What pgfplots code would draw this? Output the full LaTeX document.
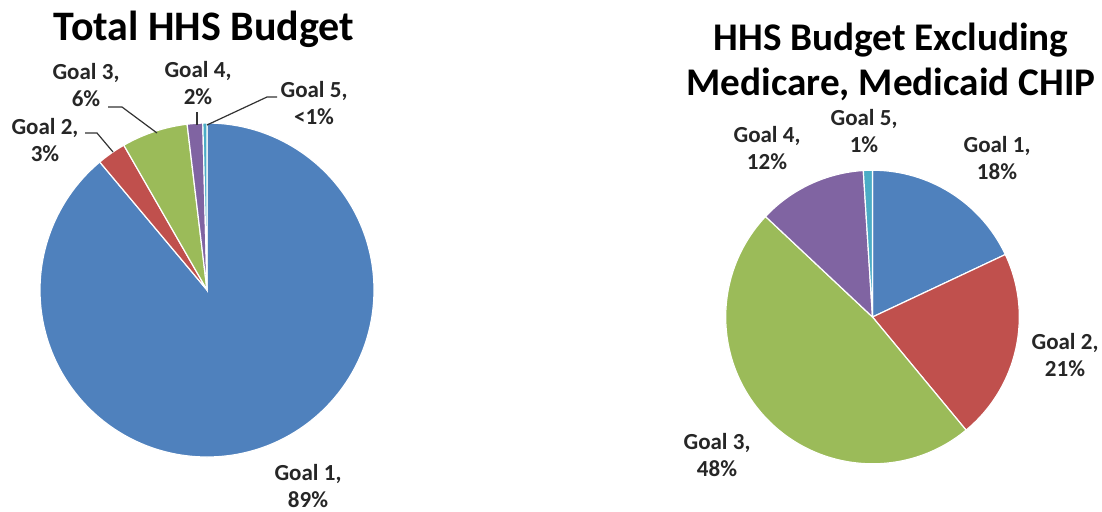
\documentclass[border=0pt]{standalone}
\usepackage{fontspec}
\setmainfont{Carlito}
\usepackage{pgfplots}
\usepackage{pgfplotstable}
\pgfplotsset{compat=1.18}

\definecolor{pie1}{HTML}{4F81BD}
\definecolor{pie2}{HTML}{C0504D}
\definecolor{pie3}{HTML}{9BBB59}
\definecolor{pie4}{HTML}{8064A2}
\definecolor{pie5}{HTML}{4BACC6}

\tikzset{
  lbl/.style={align=center, inner sep=0pt, text=black!85,
    font=\bfseries\fontsize{11.5}{13.5}\selectfont},
  ttl/.style={align=center, inner sep=0pt, text=black,
    font=\bfseries\fontsize{21}{22.5}\selectfont},
  leader/.style={black!80, line width=0.6pt},
}

% shares in percent, slices run clockwise from 12 o'clock
\pgfplotstableread{
goal share
1 88.9
2 2.8
3 6.4
4 1.5
5 0.4
}\totaltab

\pgfplotstableread{
goal share
1 18
2 21
3 48
4 12
5 1
}\exclutab

% #1 table, #2 #3 centre in axis units, #4 radius
\newcommand\pieslices[4]{%
  \pgfplotstablegetrowsof{#1}%
  \pgfmathtruncatemacro\nrows{\pgfplotsretval-1}%
  \xdef\pieangle{90}%
  \foreach \i in {0,...,\nrows}{%
    \pgfplotstablegetelem{\i}{share}\of{#1}%
    \let\share\pgfplotsretval
    \pgfmathsetmacro\endangle{\pieangle-3.6*\share}%
    \pgfmathtruncatemacro\ci{\i+1}%
    \edef\slice{\noexpand\fill[pie\ci, draw=white, line width=0.6pt]
      (axis cs:#2,#3) -- ++(\pieangle:#4)
      arc[start angle=\pieangle, end angle=\endangle, radius=#4] -- cycle;}%
    \slice
    \xdef\pieangle{\endangle}%
  }%
}

\begin{document}
\begin{tikzpicture}
\begin{axis}[
  at={(0,0)}, anchor=south west,
  x=1pt, y=1pt,
  xmin=0, xmax=551, ymin=0, ymax=255.5,
  hide axis, clip=false,
]
\path (axis cs:0,0) rectangle (axis cs:551,255.5);

% left: total budget
\pieslices{\totaltab}{103.5}{110.5}{83.5pt}
\node[ttl] at (axis cs:102,241) {Total HHS Budget};
\node[lbl] at (axis cs:154,12.5) {Goal 1,\\89\%};
\node[lbl] at (axis cs:22.5,185.5) {Goal 2,\\3\%};
\node[lbl] at (axis cs:43,213) {Goal 3,\\6\%};
\node[lbl] at (axis cs:99,214) {Goal 4,\\2\%};
\node[lbl] at (axis cs:157,204) {Goal 5,\\<1\%};
\draw[leader] (axis cs:42.5,189) -- (axis cs:48.5,189) -- (axis cs:56.5,179.5);
\draw[leader] (axis cs:54,202) -- (axis cs:61,202) -- (axis cs:78.5,189);
\draw[leader] (axis cs:98.5,199.5) -- (axis cs:98.5,193);
\draw[leader] (axis cs:138.5,207) -- (axis cs:133.5,207) -- (axis cs:103.5,193);

% right: excluding Medicare, Medicaid, CHIP
\pieslices{\exclutab}{436.25}{97}{73.4pt}
\node[ttl, font=\bfseries\fontsize{19.6}{22.5}\selectfont] at (axis cs:445.5,224.5)
  {HHS Budget Excluding\\Medicare, Medicaid CHIP};
\node[lbl] at (axis cs:498.5,176.5) {Goal 1,\\18\%};
\node[lbl] at (axis cs:532.5,78) {Goal 2,\\21\%};
\node[lbl] at (axis cs:358.5,28) {Goal 3,\\48\%};
\node[lbl] at (axis cs:383.5,181.5) {Goal 4,\\12\%};
\node[lbl] at (axis cs:432,190) {Goal 5,\\1\%};
\end{axis}
\end{tikzpicture}
\end{document}
